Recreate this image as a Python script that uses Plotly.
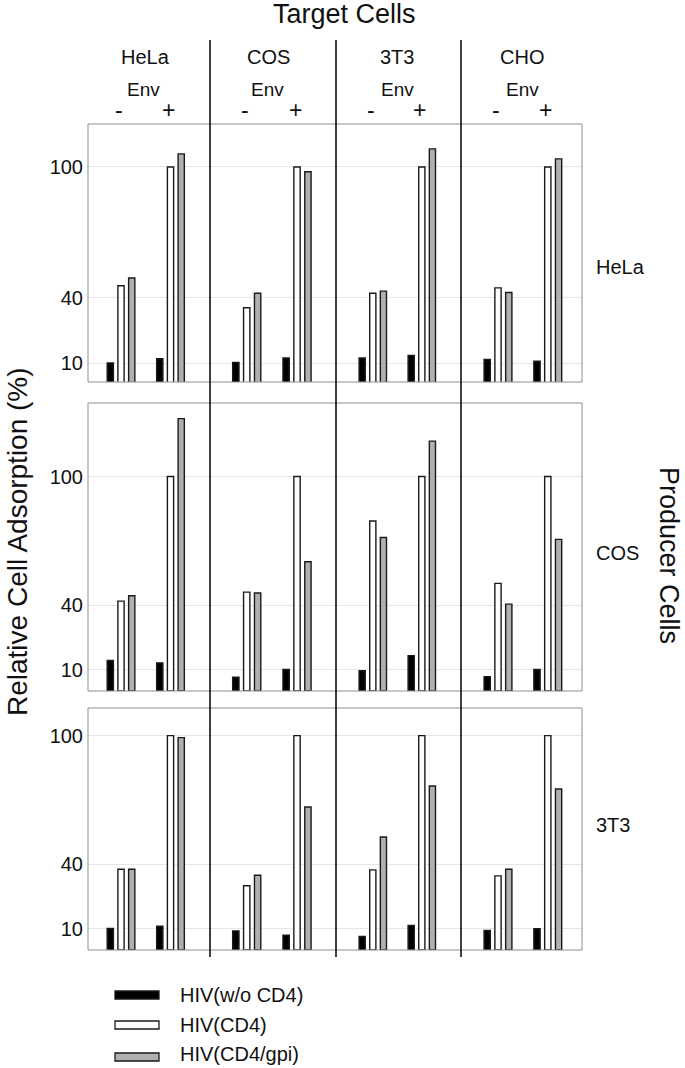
import plotly.graph_objects as go

# ---------------- data ----------------
producers = ["HeLa", "COS", "3T3"]          # rows (Producer Cells)
targets = ["HeLa", "COS", "3T3", "CHO"]     # columns (Target Cells)
env_labels = ["-", "+"]
series_names = ["HIV(w/o CD4)", "HIV(CD4)", "HIV(CD4/gpi)"]
y_ticks = [10, 40, 100]

# values[producer][target] = [Env -, Env +]   (relative cell adsorption, %)
hiv_wo_cd4 = [
    [[10.0, 12.0], [10.3, 12.3], [12.3, 13.5], [11.7, 10.8]],
    [[14.2, 13.1], [6.4, 10.0], [9.5, 16.5], [6.7, 10.0]],
    [[10.0, 11.1], [8.9, 6.9], [6.3, 11.5], [9.1, 9.9]],
]
hiv_cd4 = [
    [[45.5, 100], [35.4, 100], [42.0, 100], [44.5, 100]],
    [[41.9, 100], [46.1, 100], [79.3, 100], [50.2, 100]],
    [[37.7, 100], [30.0, 100], [37.4, 100], [34.6, 100]],
]
hiv_cd4_gpi = [
    [[49.0, 106.0], [42.0, 97.8], [43.0, 108.3], [42.4, 103.7]],
    [[44.4, 127.0], [45.7, 60.3], [71.6, 116.5], [40.5, 70.7]],
    [[37.7, 99.1], [34.9, 66.7], [52.7, 76.5], [37.7, 75.1]],
]

# ---------------- layout helpers ----------------
W, H = 685, 1068
def X(px):
    return px / W
def Y(py):
    return 1 - py / H

FONT = "Liberation Sans, Arial, Helvetica, sans-serif"
col_edges = [88, 210, 336, 461, 582]
row_edges = [(124, 382), (403, 691), (708, 950)]
row_ranges = [[1.3, 119.7], [0, 134.3], [0, 112.9]]
col_ranges = [[-0.667, 1.798], [-0.730, 1.775], [-0.751, 1.80], [-0.743, 1.687]]

fill_colors = ["#000000", "#ffffff", "#b0b0b0"]
series = [hiv_wo_cd4, hiv_cd4, hiv_cd4_gpi]

fig = go.Figure()
layout_axes = {}
for r in range(3):
    for c in range(4):
        n = r * 4 + c + 1
        sfx = "" if n == 1 else str(n)
        for s in range(3):
            fig.add_trace(go.Bar(
                x=[0, 1], y=series[s][r][c], name=series_names[s],
                xaxis="x" + sfx, yaxis="y" + sfx, showlegend=False,
                marker=dict(color=fill_colors[s], line=dict(color="#1a1a1a", width=1.4)),
            ))
        layout_axes["xaxis" + sfx] = dict(
            domain=[X(col_edges[c]), X(col_edges[c + 1])], anchor="y" + sfx,
            range=col_ranges[c], showgrid=False, zeroline=False, showline=False,
            showticklabels=False, ticks="",
        )
        layout_axes["yaxis" + sfx] = dict(
            domain=[Y(row_edges[r][1]), Y(row_edges[r][0])], anchor="x" + sfx,
            range=row_ranges[r], tickvals=y_ticks, showticklabels=(c == 0),
            showgrid=True, gridcolor="#e6e6e6", gridwidth=1, zeroline=False,
            showline=False, ticks="", ticklabelstandoff=4,
            tickfont=dict(family=FONT, size=20, color="#111"),
        )

fig.update_layout(**layout_axes)

shapes = []
for (top, bot) in row_edges:
    shapes.append(dict(type="rect", xref="paper", yref="paper",
                       x0=X(col_edges[0]), x1=X(col_edges[-1]), y0=Y(bot), y1=Y(top),
                       line=dict(color="#8f8f8f", width=1), layer="above"))
for xe in col_edges[1:-1]:
    shapes.append(dict(type="line", xref="paper", yref="paper",
                       x0=X(xe), x1=X(xe), y0=Y(40), y1=Y(957),
                       line=dict(color="#000", width=1.5), layer="above"))

# legend swatches
leg_y = [995, 1025, 1057]
for s in range(3):
    shapes.append(dict(type="rect", xref="paper", yref="paper",
                       x0=X(115), x1=X(159), y0=Y(leg_y[s] + 4), y1=Y(leg_y[s] - 4),
                       fillcolor=fill_colors[s], line=dict(color="#1a1a1a", width=1.3)))

ann = []
def txt(x, y, t, size=20, angle=0, xanchor="center"):
    ann.append(dict(x=X(x), y=Y(y), xref="paper", yref="paper", text=t, showarrow=False,
                    xanchor=xanchor, yanchor="middle", textangle=angle,
                    font=dict(family=FONT, size=size, color="#111")))

txt(344, 14, "Target Cells", size=27)
for t, x in zip(targets, [145, 268, 397, 522]):
    txt(x, 57, t)
for x in [143, 267, 397, 522]:
    txt(x, 89, "Env", size=19)
# env -/+ labels aligned with bar groups of row 1
for c in range(4):
    sfx = "" if c == 0 else str(c + 1)
    for i, e in enumerate(env_labels):
        ann.append(dict(x=i, y=Y(110), xref="x" + sfx, yref="paper", text=e,
                        showarrow=False, xanchor="center", yanchor="middle", xshift=-2,
                        font=dict(family=FONT, size=23, color="#111")))
for p, y in zip(producers, [267, 553, 825]):
    txt(594, y, p, xanchor="left")
txt(17, 542, "Relative Cell Adsorption (%)", size=28, angle=-90)
txt(669, 555, "Producer Cells", size=27, angle=90)
for s in range(3):
    txt(178, [995, 1025, 1054][s], series_names[s], xanchor="left")

fig.update_layout(
    width=W, height=H, margin=dict(l=0, r=0, t=0, b=0),
    paper_bgcolor="white", plot_bgcolor="white",
    barmode="group", bargap=0.35, bargroupgap=0.42,
    shapes=shapes, annotations=ann, showlegend=False,
    font=dict(family=FONT),
)

fig.write_html("out.html", config={"displayModeBar": False},
               post_script="document.body.style.margin='0';document.body.style.padding='0';")
